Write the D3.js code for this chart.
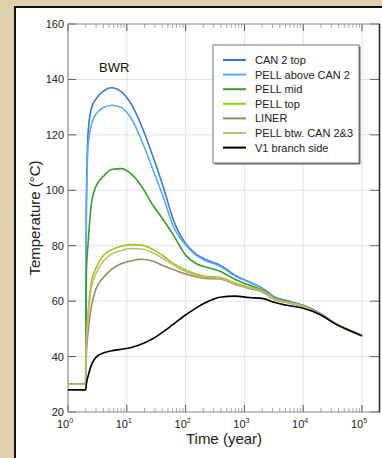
<!DOCTYPE html>
<html lang="en">
<head>
    <meta charset="UTF-8">
    <title>BWR temperature</title>
    <style>
        body {
            margin: 0;
            background: #dfcfad;
            font-family: "Liberation Sans", Arial, sans-serif;
        }
        svg { display: block; }
    </style>
    <script src="https://d3js.org/d3.v7.min.js"></script>
</head>
<body>
    <div id="chart"></div>
    <script>
        // time grid (years) shared by every series
        const times = [1, 2, 2.05, 2.2, 2.5, 3, 4, 5.5, 8, 12, 18, 28, 42, 62, 100, 150, 220, 385, 700, 1200, 2000, 3300, 5000, 10000, 20000, 35000, 60000, 100000];

        const can2Top   = [30, 30, 95, 121, 129.5, 133, 135.8, 137, 135.6, 131, 123, 112, 101, 89.3, 80.8, 77, 75, 73, 69.3, 67, 64.8, 61.5, 60.3, 58.5, 55.5, 52, 49.5, 47.5];
        const pellAbove = [30, 30, 90, 116, 123.5, 127.5, 129.8, 130.7, 130, 125.8, 117.8, 107.3, 97.3, 87, 80.3, 76.6, 74.6, 72.6, 69, 66.8, 64.6, 61.3, 60.2, 58.4, 55.4, 52, 49.5, 47.5];
        const pellMid   = [30, 30, 70, 81, 95, 101.5, 105, 107.5, 107.8, 105.8, 101.3, 94.5, 89.3, 83.8, 76.6, 73.6, 72.3, 70.8, 67.8, 65.8, 64, 61, 60, 58.3, 55.3, 52, 49.5, 47.5];
        const pellTop   = [30, 30, 45, 56, 67, 72, 76.5, 78.5, 79.8, 80.4, 80.2, 78.6, 76.3, 73.6, 71.2, 69.8, 69, 68.6, 66.5, 65, 63.8, 60.8, 59.8, 58.2, 55.2, 52, 49.5, 47.5];
        const liner     = [30, 30, 40, 49, 58, 64.5, 68.5, 71.5, 73.5, 74.6, 75.1, 74.4, 72.8, 71.4, 69.8, 68.8, 68.2, 68, 66, 64.6, 63.4, 60.5, 59.6, 58, 55, 52, 49.5, 47.5];
        const pellBtw   = [30, 30, 44, 54, 65, 70, 74.5, 77, 78.3, 79, 78.8, 77.4, 75.3, 73, 70.6, 69.3, 68.6, 68.3, 66.2, 64.8, 63.6, 60.6, 59.7, 58.1, 55.1, 52, 49.5, 47.5];
        const v1Branch  = [28, 28, 30, 33, 37, 39.8, 41.3, 42.1, 42.6, 43.3, 44.5, 46.5, 49, 51.7, 55, 57.5, 59.5, 61.4, 61.8, 61.3, 61, 59.5, 58.6, 57.4, 55, 51.8, 49.5, 47.5];

        const seriesNames = ["CAN 2 top", "PELL above CAN 2", "PELL mid", "PELL top", "LINER", "PELL btw. CAN 2&3", "V1 branch side"];
        const seriesValues = [can2Top, pellAbove, pellMid, pellTop, liner, pellBtw, v1Branch];
        const seriesColors = ["#3b7bbf", "#5eaaf2", "#3c9a2e", "#93cc1e", "#9a8a62", "#c9b873", "#000000"];

        const yTicks = [20, 40, 60, 80, 100, 120, 140, 160];
        const xExponents = [0, 1, 2, 3, 4, 5];

        const W = 382, H = 458;
        const plot = {left: 68, top: 24, right: 380, bottom: 412};

        const svg = d3.select("#chart").append("svg")
            .attr("width", W)
            .attr("height", H);

        // white panel with black frame
        svg.append("rect")
            .attr("x", 15).attr("y", 7)
            .attr("width", W + 10).attr("height", H + 10)
            .attr("fill", "#fff")
            .attr("stroke", "#111")
            .attr("stroke-width", 2);

        const x = d3.scaleLog().domain([1, 1e5]).range([plot.left, 362]);
        const y = d3.scaleLinear().domain([20, 160]).range([plot.bottom, plot.top]);

        // grid
        svg.append("g").selectAll("line")
            .data(yTicks.slice(1, -1))
            .join("line")
            .attr("x1", plot.left).attr("x2", plot.right)
            .attr("y1", d => y(d)).attr("y2", d => y(d))
            .attr("stroke", "#e2e2e2").attr("stroke-width", 1);
        svg.append("g").selectAll("line")
            .data(xExponents.slice(1))
            .join("line")
            .attr("x1", d => x(Math.pow(10, d))).attr("x2", d => x(Math.pow(10, d)))
            .attr("y1", plot.top).attr("y2", plot.bottom)
            .attr("stroke", "#e2e2e2").attr("stroke-width", 1);

        // minor + major x ticks (bottom and top, inward)
        const xTickVals = [];
        for (let e = 0; e <= 5; e++) {
            for (let m = 1; m <= 9; m++) {
                const v = m * Math.pow(10, e);
                if (x(v) <= plot.right - 1) xTickVals.push({v: v, major: m === 1});
            }
        }
        const tickG = svg.append("g");
        tickG.selectAll("line.xb")
            .data(xTickVals)
            .join("line")
            .attr("class", "xb")
            .attr("x1", d => x(d.v)).attr("x2", d => x(d.v))
            .attr("y1", plot.bottom).attr("y2", d => plot.bottom - (d.major ? 7 : 4))
            .attr("stroke", d => d.major ? "#555" : "#aaa");
        tickG.selectAll("line.xt")
            .data(xTickVals)
            .join("line")
            .attr("class", "xt")
            .attr("x1", d => x(d.v)).attr("x2", d => x(d.v))
            .attr("y1", plot.top).attr("y2", d => plot.top + (d.major ? 7 : 4))
            .attr("stroke", d => d.major ? "#555" : "#aaa");
        tickG.selectAll("line.yl")
            .data(yTicks)
            .join("line")
            .attr("class", "yl")
            .attr("x1", plot.left).attr("x2", plot.left + 8)
            .attr("y1", d => y(d)).attr("y2", d => y(d))
            .attr("stroke", "#555");
        tickG.selectAll("line.yr")
            .data(yTicks)
            .join("line")
            .attr("class", "yr")
            .attr("x1", plot.right - 10).attr("x2", plot.right)
            .attr("y1", d => y(d)).attr("y2", d => y(d))
            .attr("stroke", "#666");

        // axis frame
        svg.append("path")
            .attr("d", `M${plot.left},${plot.bottom}V${plot.top}H${plot.right}M${plot.left},${plot.bottom}H${plot.right}`)
            .attr("fill", "none")
            .attr("stroke", "#8a8a8a")
            .attr("stroke-width", 1.2);
        svg.append("line")
            .attr("x1", plot.right - 0.5).attr("x2", plot.right - 0.5)
            .attr("y1", plot.top).attr("y2", plot.bottom)
            .attr("stroke", "#222").attr("stroke-width", 1.5);

        // tick labels
        svg.append("g").selectAll("text")
            .data(yTicks)
            .join("text")
            .attr("x", plot.left - 4)
            .attr("y", d => y(d) + 4)
            .attr("text-anchor", "end")
            .attr("font-size", 11)
            .attr("fill", "#222")
            .text(d => d);

        const xl = svg.append("g").selectAll("text")
            .data(xExponents)
            .join("text")
            .attr("x", d => x(Math.pow(10, d)) - 3)
            .attr("y", plot.bottom + 16)
            .attr("text-anchor", "middle")
            .attr("font-size", 11)
            .attr("fill", "#222");
        xl.append("tspan").text("10");
        xl.append("tspan")
            .attr("dy", -5)
            .attr("font-size", 7)
            .text(d => d);

        // axis titles
        svg.append("text")
            .attr("transform", `translate(40,218) rotate(-90)`)
            .attr("text-anchor", "middle")
            .attr("font-size", 15)
            .attr("fill", "#222")
            .text("Temperature (°C)");
        svg.append("text")
            .attr("x", 224).attr("y", 444)
            .attr("text-anchor", "middle")
            .attr("font-size", 15)
            .attr("fill", "#222")
            .text("Time (year)");

        svg.append("text")
            .attr("x", 99).attr("y", 72)
            .attr("font-size", 13)
            .attr("fill", "#111")
            .text("BWR");

        // curves
        const line = d3.line()
            .x(d => x(d[0]))
            .y(d => y(d[1]))
            .curve(d3.curveMonotoneX);

        svg.append("g").selectAll("path")
            .data(seriesValues.map((vals, i) => ({vals: vals, color: seriesColors[i]})))
            .join("path")
            .attr("d", d => line(times.map((t, j) => [t, d.vals[j]])))
            .attr("fill", "none")
            .attr("stroke", d => d.color)
            .attr("stroke-width", 1.6);

        // legend
        const lg = svg.append("g").attr("transform", "translate(213,45)");
        lg.append("rect")
            .attr("x", 1.5).attr("y", 1.5)
            .attr("width", 146).attr("height", 118)
            .attr("fill", "#666");
        lg.append("rect")
            .attr("width", 146).attr("height", 118)
            .attr("fill", "#fff")
            .attr("stroke", "#777")
            .attr("stroke-width", 1);
        const rows = lg.selectAll("g.row")
            .data(seriesNames)
            .join("g")
            .attr("class", "row")
            .attr("transform", (d, i) => `translate(0,${15 + i * 14.6})`);
        rows.append("line")
            .attr("x1", 10).attr("x2", 33)
            .attr("stroke", (d, i) => seriesColors[i])
            .attr("stroke-width", 2);
        rows.append("text")
            .attr("x", 42).attr("y", 4)
            .attr("font-size", 11)
            .attr("fill", "#222")
            .text(d => d);
    </script>
</body>
</html>
